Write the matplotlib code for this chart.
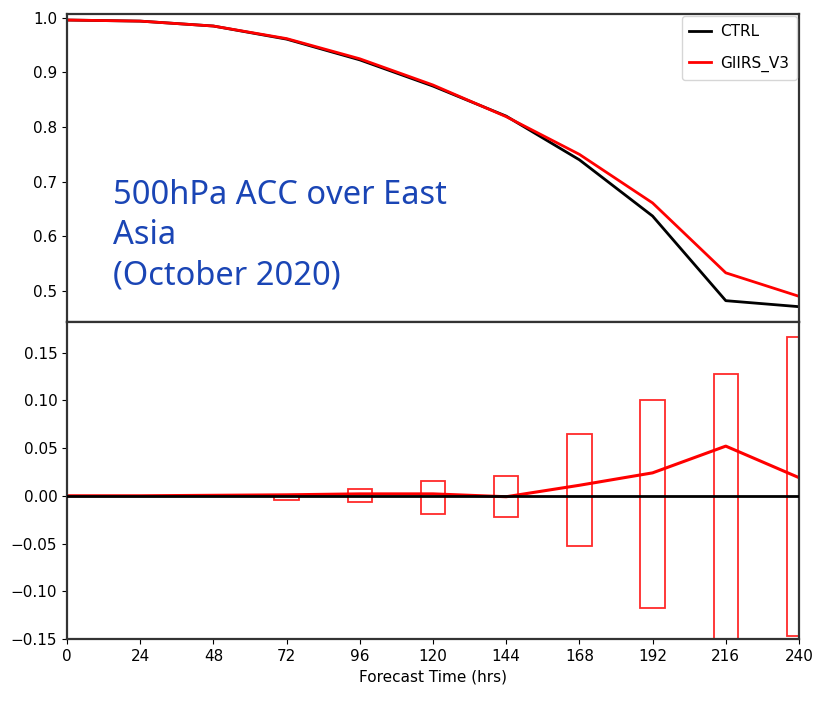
import numpy as np
import matplotlib
matplotlib.use('Agg')
import matplotlib.pyplot as plt
from matplotlib.patches import Rectangle

# forecast lead times (hrs)
hours = [0, 24, 48, 72, 96, 120, 144, 168, 192, 216, 240]
# 500hPa ACC
ctrl = [0.996, 0.994, 0.985, 0.961, 0.923, 0.875, 0.820, 0.740, 0.637, 0.482, 0.471]
giirs = [0.996, 0.994, 0.985, 0.962, 0.925, 0.877, 0.819, 0.750, 0.661, 0.533, 0.490]
# difference GIIRS_V3 - CTRL
diff = [0.0, 0.0, 0.0005, 0.001, 0.002, 0.002, -0.001, 0.011, 0.024, 0.052, 0.019]
# significance boxes (lower, upper)
box_hours = [72, 96, 120, 144, 168, 192, 216, 240]
box_low = [-0.004, -0.0063, -0.0186, -0.022, -0.053, -0.1176, -0.155, -0.147]
box_high = [0.001, 0.0066, 0.0158, 0.021, 0.065, 0.100, 0.127, 0.166]

plt.rcParams['font.family'] = ['DejaVu Sans']

fig = plt.figure(figsize=(8.23, 7.01), dpi=100)
ax1 = fig.add_axes([0.0814, 0.5407, 0.8894, 0.4393])
ax2 = fig.add_axes([0.0814, 0.0884, 0.8894, 0.4523])

ax1.plot(hours, ctrl, 'k-', lw=2, label='CTRL')
ax1.plot(hours, giirs, 'r-', lw=2, label='GIIRS_V3')
ax1.set_xlim(0, 240)
ax1.set_ylim(0.443, 1.007)
ax1.set_yticks([0.5, 0.6, 0.7, 0.8, 0.9, 1.0])
ax1.set_xticks([])
ax1.tick_params(labelsize=11)
ax1.legend(loc='upper right', fontsize=11, handlelength=1.4, handletextpad=0.6,
           labelspacing=1.1, borderaxespad=0.15, borderpad=0.5)
ax1.text(0.063, 0.465, '500hPa ACC over East\nAsia\n(October 2020)', transform=ax1.transAxes,
         fontsize=23.5, color='#1a45b5', family='Noto Sans', weight='light',
         va='top', ha='left', linespacing=1.3)

ax2.plot(hours, diff, 'r-', lw=2.2, zorder=2)
ax2.axhline(0, color='k', lw=2, zorder=3)
for h, lo, hi in zip(box_hours, box_low, box_high):
    ax2.add_patch(Rectangle((h - 4, lo), 8, hi - lo, fill=False, edgecolor='#ff2a2a', lw=1.3))
ax2.set_xlim(0, 240)
ax2.set_ylim(-0.15, 0.182)
ax2.set_yticks([-0.15, -0.10, -0.05, 0.0, 0.05, 0.10, 0.15])
ax2.set_xticks(np.arange(0, 241, 24))
ax2.tick_params(labelsize=11)
ax2.set_xlabel('Forecast Time (hrs)', fontsize=11)

for ax in (ax1, ax2):
    for s in ax.spines.values():
        s.set_linewidth(1.6)
        s.set_color('#333333')

plt.savefig('out.png', dpi=100)
